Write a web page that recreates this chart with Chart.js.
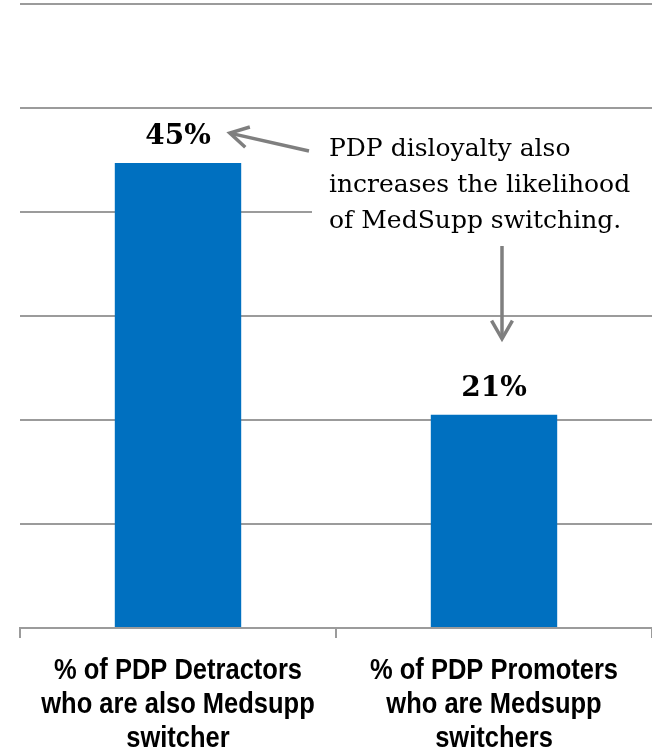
<!DOCTYPE html>
<html><head><meta charset="utf-8">
<script src="https://cdn.jsdelivr.net/npm/chart.js@4/dist/chart.umd.min.js"></script>
<style>html,body{margin:0;padding:0;background:#fff}#wrap{width:652px;height:754px;position:relative}</style>
</head><body><div id="wrap"><canvas id="c"></canvas></div>
<script>
const categories = [
  ["% of PDP Detractors", "who are also Medsupp", "switcher"],
  ["% of PDP Promoters", "who are Medsupp", "switchers"]
];
const values = [44.7, 20.5];
const valueLabels = ["45%", "21%"];
const yTicks = [0, 10, 20, 30, 40, 50, 60];
const annotationLines = ["PDP disloyalty also", "increases the likelihood", "of MedSupp switching."];

const GRID = "#9b9b9b";
const ARROW = "#7f7f7f";

function arrow(ctx, x1, y1, x2, y2) {
  const a = Math.atan2(y2 - y1, x2 - x1), L = 21, s = 0.52;
  ctx.save();
  ctx.strokeStyle = ARROW; ctx.lineWidth = 3.5; ctx.lineCap = "butt"; ctx.lineJoin = "miter";
  ctx.beginPath(); ctx.moveTo(x1, y1); ctx.lineTo(x2, y2); ctx.stroke();
  ctx.beginPath();
  ctx.moveTo(x2 - L * Math.cos(a - s), y2 - L * Math.sin(a - s));
  ctx.lineTo(x2, y2);
  ctx.lineTo(x2 - L * Math.cos(a + s), y2 - L * Math.sin(a + s));
  ctx.stroke();
  ctx.restore();
}

const overlay = {
  id: "overlay",
  afterDatasetsDraw(chart) {
    const ctx = chart.ctx;
    const bars = chart.getDatasetMeta(0).data;
    const xs = chart.scales.x;
    ctx.save();
    // value labels
    ctx.font = "bold 28px 'DejaVu Serif'";
    ctx.fillStyle = "#000"; ctx.textAlign = "center"; ctx.textBaseline = "alphabetic";
    const labelPos = [];
    bars.forEach((b, i) => {
      const y = b.y - 19;
      ctx.fillText(valueLabels[i], b.x, y);
      labelPos.push({x: b.x, y: y, w: ctx.measureText(valueLabels[i]).width});
    });
    // category labels (condensed bold sans)
    ctx.font = "bold 30px 'Liberation Sans', Arial, sans-serif";
    categories.forEach((lines, i) => {
      const cx = xs.getPixelForValue(i);
      lines.forEach((t, j) => {
        ctx.save();
        ctx.translate(cx, xs.top + 51 + j * 34);
        ctx.scale(0.85, 1);
        ctx.fillText(t, 0, 0);
        ctx.restore();
      });
    });
    // annotation box
    const bx = 312, by = 122;
    ctx.fillStyle = "#fff";
    ctx.fillRect(bx, by, chart.width - bx, 124);
    ctx.fillStyle = "#000"; ctx.textAlign = "left"; ctx.textBaseline = "alphabetic";
    ctx.font = "25px 'DejaVu Serif'";
    annotationLines.forEach((t, i) => ctx.fillText(t, 329, 156 + i * 36));
    // arrows
    const p0 = labelPos[0];
    arrow(ctx, 309, 151, p0.x + p0.w / 2 + 19, p0.y - 11);
    const p1 = labelPos[1];
    arrow(ctx, p1.x + 8, 246, p1.x + 8, p1.y - 57);
    ctx.restore();
  }
};

new Chart(document.getElementById("c"), {
  type: "bar",
  data: {
    labels: categories,
    datasets: [{ data: values, backgroundColor: "#0070C0", borderWidth: 0,
      categoryPercentage: 1.0, barPercentage: 0.4 }]
  },
  options: {
    responsive: true, maintainAspectRatio: false, animation: false,
    devicePixelRatio: 1,
    layout: { padding: { left: 20, top: 4, right: 0, bottom: 0 } },
    plugins: { legend: { display: false }, tooltip: { enabled: false } },
    scales: {
      x: {
        grid: { offset: true, drawOnChartArea: false, color: GRID, lineWidth: 2, tickLength: 10 },
        border: { display: true, color: GRID, width: 2 },
        ticks: { display: false },
        afterFit: s => { s.height = 126; }
      },
      y: {
        min: 0, max: 60,
        afterBuildTicks: s => { s.ticks = yTicks.map(v => ({ value: v })); },
        grid: { color: GRID, lineWidth: 2, drawTicks: false },
        border: { display: false },
        ticks: { display: false },
        afterFit: s => { s.width = 0; }
      }
    }
  },
  plugins: [overlay]
});
</script>
</body></html>
